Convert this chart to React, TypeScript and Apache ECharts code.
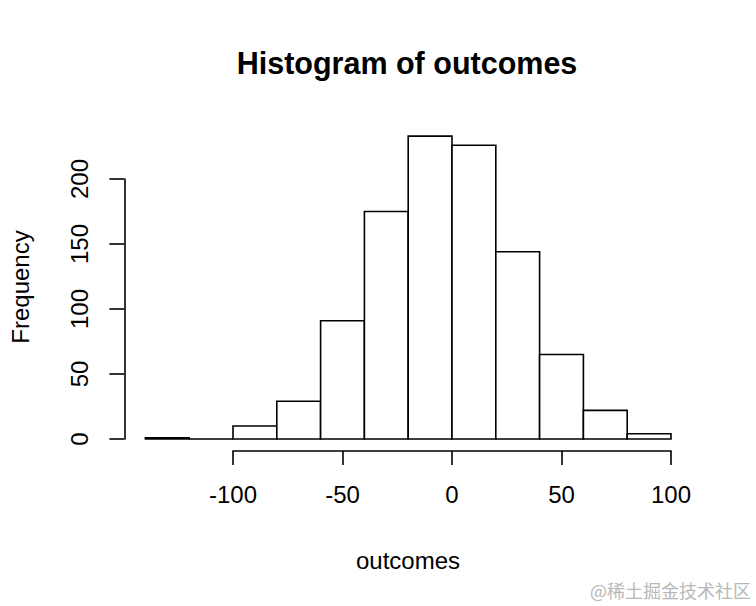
import React, { useEffect, useRef } from "react";
import * as echarts from "echarts";

const binStarts = [-140, -120, -100, -80, -60, -40, -20, 0, 20, 40, 60, 80];
const binWidth = 20;
const counts = [1, 0, 10, 29, 91, 175, 233, 226, 144, 65, 22, 4];
const xTicks = [-100, -50, 0, 50, 100];
const yTicks = [0, 50, 100, 150, 200];
const titleText = "Histogram of outcomes";
const xLabel = "outcomes";
const yLabel = "Frequency";
const watermark = "@稀土掘金技术社区";

const FONT = "'Liberation Sans', Arial, sans-serif";

export default function App() {
  const ref = useRef<HTMLDivElement>(null);
  useEffect(() => {
    document.body.style.margin = "0";
    const chart = echarts.init(ref.current!, null, { renderer: "svg" });
    const xmin = binStarts[0];
    const xmax = binStarts[binStarts.length - 1] + binWidth;
    const xr = xmax - xmin;
    const ymaxData = Math.max(...counts);
    const pxX = 438 / 200;
    const pxY = 1.3;
    const x0 = 452; // pixel of x=0
    const y0 = 439; // pixel of y=0
    const exMin = xmin - 0.04 * xr;
    const exMax = xmax + 0.04 * xr;
    const eyMin = -0.04 * ymaxData;
    const eyMax = ymaxData * 1.04;
    const gLeft = x0 + exMin * pxX;
    const gWidth = (exMax - exMin) * pxX;
    const gTop = y0 - eyMax * pxY;
    const gHeight = (eyMax - eyMin) * pxY;
    const axisStyle = { color: "#000", width: 1.6 };
    const labelStyle = { color: "#000", fontFamily: FONT, fontSize: 24 };

    chart.setOption({
      animation: false,
      backgroundColor: "#fff",
      grid: [
        { left: gLeft, top: gTop, width: gWidth, height: gHeight },
        { left: x0 + xTicks[0] * pxX, top: gTop, width: (xTicks[xTicks.length - 1] - xTicks[0]) * pxX, height: gHeight },
        { left: gLeft, top: y0 - yTicks[yTicks.length - 1] * pxY, width: gWidth, height: (yTicks[yTicks.length - 1] - yTicks[0]) * pxY },
      ],
      xAxis: [
        { type: "value", gridIndex: 0, min: exMin, max: exMax, show: false },
        {
          type: "value", gridIndex: 1, min: xTicks[0], max: xTicks[xTicks.length - 1], interval: 50,
          axisLine: { show: true, lineStyle: axisStyle },
          axisTick: { show: true, length: 14, lineStyle: axisStyle },
          axisLabel: { ...labelStyle, margin: 31, showMinLabel: true, showMaxLabel: true },
          splitLine: { show: false },
        },
        { type: "value", gridIndex: 2, show: false, min: 0, max: 1 },
      ],
      yAxis: [
        { type: "value", gridIndex: 0, min: eyMin, max: eyMax, show: false },
        { type: "value", gridIndex: 1, show: false, min: 0, max: 1 },
        {
          type: "value", gridIndex: 2, min: yTicks[0], max: yTicks[yTicks.length - 1], interval: 50,
          axisLine: { show: true, lineStyle: axisStyle },
          axisTick: { show: true, length: 15, lineStyle: axisStyle },
          axisLabel: { ...labelStyle, margin: 33, rotate: 90, showMinLabel: true, showMaxLabel: true },
          splitLine: { show: false },
        },
      ],
      series: [
        {
          type: "custom",
          xAxisIndex: 0,
          yAxisIndex: 0,
          clip: false,
          data: binStarts.map((s, i) => [s, counts[i]]),
          encode: { x: 0, y: 1 },
          renderItem: (params: any, api: any) => {
            const s = api.value(0);
            const c = api.value(1);
            const p0 = api.coord([s, c]);
            const p1 = api.coord([s + binWidth, 0]);
            return {
              type: "rect",
              shape: { x: p0[0], y: p0[1], width: p1[0] - p0[0], height: p1[1] - p0[1] },
              style: { fill: "#fff", stroke: "#000", lineWidth: 1.6 },
            };
          },
        },
      ],
      graphic: [
        {
          type: "text", x: 407, y: 63,
          style: { text: titleText, fontFamily: FONT, fontSize: 30.5, fontWeight: "bold", fill: "#000", align: "center", verticalAlign: "middle" },
        },
        {
          type: "text", x: 408, y: 560,
          style: { text: xLabel, fontFamily: FONT, fontSize: 24, fill: "#000", align: "center", verticalAlign: "middle" },
        },
        {
          type: "text", x: 20, y: 287, rotation: Math.PI / 2,
          style: { text: yLabel, fontFamily: FONT, fontSize: 24, fill: "#000", align: "center", verticalAlign: "middle" },
        },
        {
          type: "text", x: 751, y: 590,
          style: { text: watermark, fontFamily: "'Noto Sans CJK SC', sans-serif", fontSize: 18, fill: "#b8b8b8", align: "right", verticalAlign: "middle" },
        },
      ],
    });
    return () => chart.dispose();
  }, []);
  return <div ref={ref} style={{ width: 756, height: 606 }} />;
}
